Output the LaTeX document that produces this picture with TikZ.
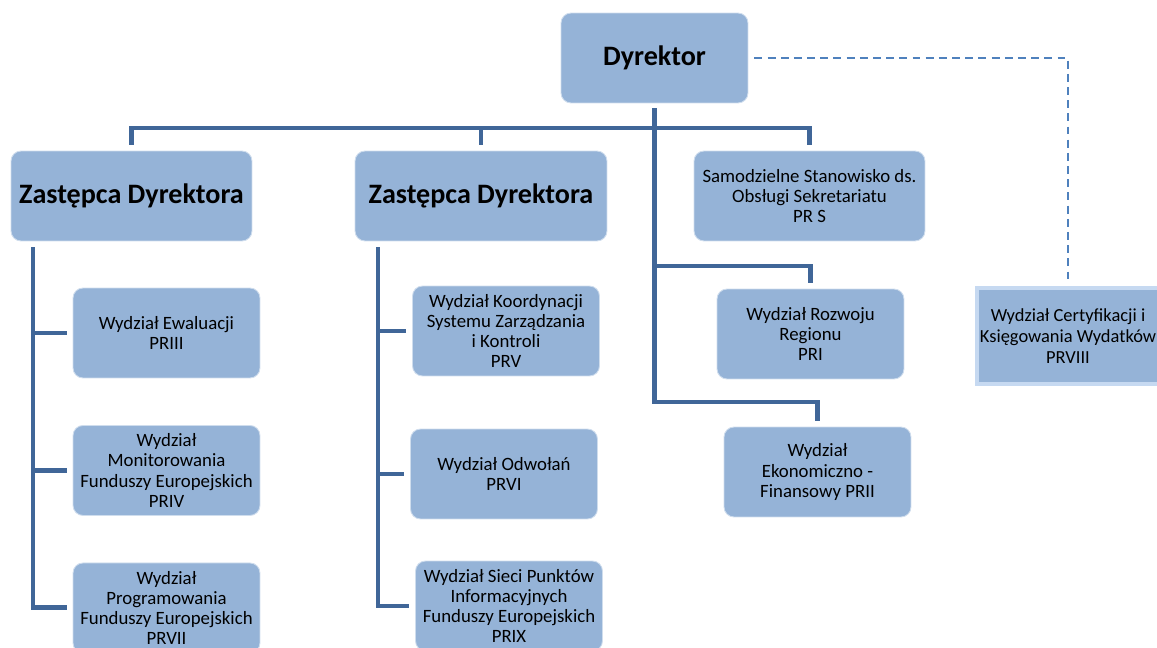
\documentclass[tikz,border=0pt]{standalone}
\usepackage{fontspec}
\setmainfont{Carlito}
\usetikzlibrary{positioning}
\definecolor{boxblue}{RGB}{149,179,215}
\definecolor{rimblue}{RGB}{198,217,241}
\definecolor{linkblue}{RGB}{64,102,152}
\definecolor{dashblue}{RGB}{79,129,189}

\begin{document}
\begin{tikzpicture}[x=0.02cm, y=-0.02cm, node distance=2.75cm,
	unit/.style={rectangle, rounded corners=0.2cm, fill=boxblue, draw=white!55!boxblue, line width=0.5pt,
		minimum width=3.74cm, minimum height=1.8cm, inner sep=1pt, align=center,
		font=\fontsize{10.7}{11.5}\selectfont},
	head/.style={unit, font=\fontsize{16}{18}\selectfont\bfseries},
	certbox/.style={rectangle, fill=boxblue, draw=rimblue, line width=2.3pt,
		minimum width=3.64cm, minimum height=1.92cm, inner sep=1pt, align=center,
		font=\fontsize{10.5}{12}\selectfont},
	link/.style={draw=linkblue, line width=2.8pt},
	dashlink/.style={draw=dashblue, line width=1.1pt, dash pattern=on 4.5pt off 3pt}]
	\useasboundingbox (0,0) rectangle (1157,648);
	\clip (0,0) rectangle (1157,648);
	\node[head]                       (dyr)   at (654.5,58) {Dyrektor};
	\node[head, minimum width=4.82cm] (zast1) at (131.5,196) {Zastępca Dyrektora};
	\node[head, minimum width=5.04cm] (zast2) at (481,196) {Zastępca Dyrektora};
	\node[unit, minimum width=4.62cm] (sekr)  at (809.5,196) {Samodzielne Stanowisko ds.\\Obsługi Sekretariatu\\PR S};
	\node[unit]  (ewal)  at (166.5,333) {Wydział Ewaluacji\\PRIII};
	\node[unit]  (monit) [below of = ewal] {Wydział\\Monitorowania\\Funduszy Europejskich\\PRIV};
	\node[unit]  (prog)  [below of = monit] {Wydział\\Programowania\\Funduszy Europejskich\\PRVII};
	\node[unit]  (koord) at (506,331) {Wydział Koordynacji\\Systemu Zarządzania\\i Kontroli\\PRV};
	\node[unit]  (odw)   at (504,474) {Wydział Odwołań\\PRVI};
	\node[unit]  (sieci) at (509,606) {Wydział Sieci Punktów\\Informacyjnych\\Funduszy Europejskich\\PRIX};
	\node[unit]  (rozw)  at (810.5,334) {Wydział Rozwoju\\Regionu\\PRI};
	\node[unit]  (ekon)  at (817.5,472) {Wydział\\Ekonomiczno -\\Finansowy PRII};
	\node[certbox] (cert) at (1068,336) {Wydział Certyfikacji i\\Księgowania Wydatków\\PRVIII};
	\coordinate (bus)   at (0,128);
	\coordinate (rbar)  at (0,266);
	\coordinate (ebar)  at (0,402);
	\coordinate (rail1) at (33,0);
	\coordinate (rail2) at (378,0);
	\draw[link, shorten <=0.12cm, shorten >=0.12cm]
		(zast1.north) -- (zast1.north |- bus) -- (sekr.north |- bus) -- (sekr.north);
	\draw[link, shorten >=0.12cm] (zast2.north |- bus) -- (zast2.north);
	\draw[link, shorten <=0.1cm, shorten >=0.12cm] (dyr.south) -- (dyr.south |- ebar) -| (ekon.north);
	\draw[link, shorten >=0.12cm] (dyr.south |- rbar) -| (rozw.north);
	\draw[link, shorten <=0.12cm, shorten >=0.12cm] (rail1 |- zast1.south) -- (rail1 |- prog.west) -- (prog.west);
	\draw[link, shorten >=0.12cm] (rail1 |- ewal.west) -- (ewal.west);
	\draw[link, shorten >=0.12cm] (rail1 |- monit.west) -- (monit.west);
	\draw[link, shorten <=0.12cm, shorten >=0.12cm] (rail2 |- zast2.south) -- (rail2 |- sieci.west) -- (sieci.west);
	\draw[link, shorten >=0.12cm] (rail2 |- koord.west) -- (koord.west);
	\draw[link, shorten >=0.12cm] (rail2 |- odw.west) -- (odw.west);
	\draw[dashlink, shorten <=0.12cm, shorten >=0.08cm] (dyr.east) -| (cert.north);
\end{tikzpicture}
\end{document}
